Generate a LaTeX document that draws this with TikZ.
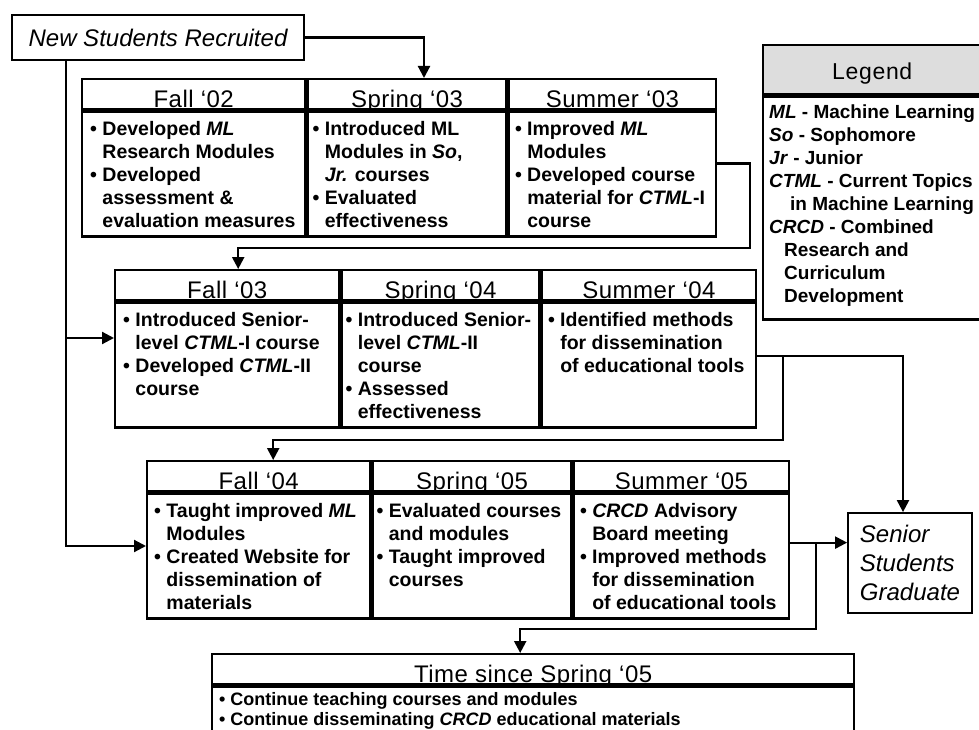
\documentclass[tikz,border=0pt]{standalone}
\usepackage{fontspec}
\setmainfont{Liberation Sans}
\usepackage{xcolor}
\usetikzlibrary{arrows.meta,positioning,calc}
\definecolor{legendgray}{RGB}{221,221,221}

% bullet item with hanging indent
\newcommand{\bul}[1]{\par\hangindent=0.63em\hangafter=1\noindent\textbullet\ #1}
% top aligned text of a term cell
\newcommand{\celltext}[2]{\parbox[b][125pt][t]{#1}{\vspace*{10pt}#2}}

\tikzset{
  hdr/.style={draw, line width=2.4pt, anchor=north west, minimum height=30pt,
    inner ysep=2pt, text height=26pt, text depth=0pt,
    font=\fontsize{24}{28}\selectfont\addfontfeature{LetterSpace=2}},
  cellbody/.style={draw, line width=2.4pt, anchor=north west, inner xsep=8pt,
    inner ysep=0pt, font=\bfseries\fontsize{19.5}{23}\selectfont},
  endbox/.style={draw, line width=1.8pt, font=\itshape\fontsize{24}{29}\selectfont},
  link/.style={line width=2.2pt, -{Triangle[length=12pt,width=12pt]}},
  wire/.style={line width=2.2pt}
}

\begin{document}
\begin{tikzpicture}[x=1pt,y=-1pt]
  \clip (0,0) rectangle (979,730);
  \fill[white] (0,0) rectangle (979,730);

  % students in and out
  \node[endbox, minimum width=292pt, minimum height=45pt] (ns) at (158,37.5) {New Students Recruited};
  \node[endbox, minimum width=124pt, minimum height=100pt, align=left] (sg) at (910,563)
    {Senior\\Students\\Graduate};

  % first year
  \node[hdr, minimum width=223pt] (f02h) at (81,78) {Fall `02};
  \node[hdr, minimum width=199pt] (s03h) at (f02h.north east) {Spring `03};
  \node[hdr, minimum width=207pt] (su03h) at (s03h.north east) {Summer `03};
  \node[cellbody] (f02) at (f02h.south west) {\celltext{207pt}{%
    \bul{Developed \textit{ML}\\Research Modules}
    \bul{Developed\\assessment \&\\evaluation measures}}};
  \node[cellbody, inner xsep=5pt] (s03) at (s03h.south west) {\celltext{189pt}{%
    \bul{Introduced ML\\Modules in \textit{So},\\\textit{Jr.} courses}
    \bul{Evaluated\\effectiveness}}};
  \node[cellbody, inner xsep=6pt] (su03) at (su03h.south west) {\celltext{195pt}{%
    \bul{Improved \textit{ML}\\Modules}
    \bul{Developed course\\material for \textit{CTML}-I\\course}}};

  % second year
  \node[hdr, minimum width=224pt] (f03h) at (114,269) {Fall `03};
  \node[hdr, minimum width=198pt] (s04h) at (f03h.north east) {Spring `04};
  \node[hdr, minimum width=214pt] (su04h) at (s04h.north east) {Summer `04};
  \node[cellbody] (f03) at (f03h.south west) {\celltext{208pt}{%
    \bul{Introduced Senior-\\level \textit{CTML}-I course}
    \bul{Developed \textit{CTML}-II\\course}}};
  \node[cellbody, inner xsep=4pt] (s04) at (s04h.south west) {\celltext{190pt}{%
    \bul{Introduced Senior-\\level \textit{CTML}-II\\course}
    \bul{Assessed\\effectiveness}}};
  \node[cellbody, inner xsep=6pt] (su04) at (su04h.south west) {\celltext{202pt}{%
    \bul{Identified methods\\for dissemination\\of educational tools}}};

  % third year
  \node[hdr, minimum width=223pt] (f04h) at (146,460) {Fall `04};
  \node[hdr, minimum width=199pt] (s05h) at (f04h.north east) {Spring `05};
  \node[hdr, minimum width=215pt] (su05h) at (s05h.north east) {Summer `05};
  \node[cellbody, inner xsep=7pt] (f04) at (f04h.south west) {\celltext{209pt}{%
    \bul{Taught improved \textit{ML}\\Modules}
    \bul{Created Website for\\dissemination of\\materials}}};
  \node[cellbody, inner xsep=4pt] (s05) at (s05h.south west) {\celltext{191pt}{%
    \bul{Evaluated courses\\and modules}
    \bul{Taught improved\\courses}}};
  \node[cellbody, inner xsep=6pt] (su05) at (su05h.south west) {\celltext{203pt}{%
    \bul{\textit{CRCD} Advisory\\Board meeting}
    \bul{Improved methods\\for dissemination\\of educational tools}}};

  % after spring 05
  \node[hdr, minimum width=642pt] (tsh) at (211,653) {Time since Spring `05};
  \node[cellbody, inner xsep=7pt, font=\bfseries\fontsize{18}{20}\selectfont] (ts) at (tsh.south west)
    {\parbox[b][80pt][t]{628pt}{\vspace*{6pt}%
    \bul{Continue teaching courses and modules}
    \bul{Continue disseminating \textit{CRCD} educational materials}}};

  % legend
  \node[hdr, minimum width=218pt, minimum height=49pt, text height=20pt, inner ysep=4pt,
    fill=legendgray, font=\fontsize{23}{26}\selectfont\addfontfeature{LetterSpace=3}] (legh) at (762,44) {Legend};
  \node[cellbody, inner xsep=6pt, minimum width=218pt, align=left,
    font=\bfseries\fontsize{19}{23}\selectfont] (leg) at (legh.south west)
    {\parbox[b][223pt][t]{230pt}{\raggedright\vspace*{8pt}%
    \textit{ML} - Machine Learning\\
    \textit{So} - Sophomore\\
    \textit{Jr} - Junior\\
    \textit{CTML} - Current Topics\\
    \hspace*{21pt}in Machine Learning\\
    \textit{CRCD} - Combined\\
    \hspace*{15pt}Research and\\
    \hspace*{15pt}Curriculum\\
    \hspace*{15pt}Development}};

  % connectors
  \coordinate (in1) at (424,78);
  \coordinate (j2) at (66,338);
  \coordinate (j3) at (66,546);
  \coordinate (b1) at (750,248);
  \coordinate (b2) at (783,440);
  \coordinate (b3) at (816,629);
  \coordinate (o2) at ([yshift=9.5pt]su04.east);
  \coordinate (o3) at ([yshift=13.5pt]su05.east);

  \draw[link] (ns.east) -| (in1);
  \draw[link] (ns.south -| j2) |- (j3 -| f04.west);
  \draw[link] (j2) -- (j2 -| f03.west);
  \draw[link] ([yshift=10.5pt]su03.east) -| (b1) -| ([xshift=11pt]f03h.north);
  \draw[link] (o2) -| (b2) -| ([xshift=14.5pt]f04h.north);
  \draw[link] (o2) -| ([xshift=-7pt]sg.north);
  \draw[link] (o3) -- (o3 -| sg.west);
  \draw[link] (o3 -| b3) -- (b3) -| ([xshift=-13pt]tsh.north);
\end{tikzpicture}
\end{document}
